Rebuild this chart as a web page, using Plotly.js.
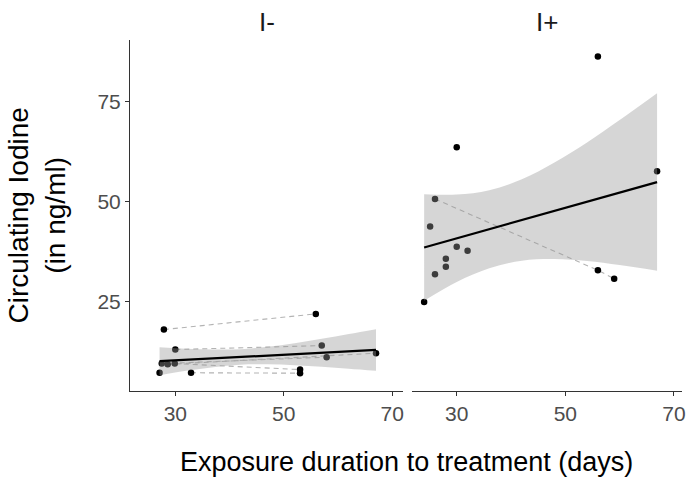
<!DOCTYPE html>
<html>
<head>
<meta charset="utf-8">
<script src="https://cdn.plot.ly/plotly-3.0.1.min.js"></script>
<style>html,body{margin:0;padding:0;background:#fff;}#chart{width:688px;height:482px;}</style>
</head>
<body>
<div id="chart"></div>
<script>
// ---- Panel I- data ----
var leftId   = [1, 1, 2, 2, 3, 3, 4, 4, 5, 5, 6, 6, 7];
var leftDays = [27.9, 55.9, 30.0, 57.0, 27.5, 57.9, 28.6, 67.0, 29.9, 53.0, 32.9, 53.0, 27.1];
var leftVals = [18.1, 22.0, 13.1, 14.1, 9.6, 11.2, 9.4, 12.2, 9.6, 8.1, 7.3, 7.2, 7.3];
var leftFitX = [27.1, 67.0];
var leftFitY = [10.2, 13.0];
var leftRibX  = [27.1, 32, 37, 42, 47, 52, 57, 62, 67];
var leftRibHi = [13.7, 13.3, 13.1, 13.2, 13.8, 14.7, 15.8, 17.0, 18.2];
var leftRibLo = [6.7, 7.8, 8.7, 9.3, 9.4, 9.2, 8.8, 8.3, 7.8];

// ---- Panel I+ data ----
var rightId   = [8, 8, 8, 9, 10, 11, 12, 13, 14, 15, 16, 17, 18];
var rightDays = [26.0, 56.0, 59.0, 56.0, 30.0, 66.9, 25.1, 30.0, 32.0, 28.0, 28.0, 26.0, 24.0];
var rightVals = [50.7, 32.9, 30.8, 86.3, 63.6, 57.6, 43.8, 38.8, 37.8, 35.8, 33.8, 31.9, 25.0];
var rightFitX = [24.0, 66.9];
var rightFitY = [38.6, 54.9];
var rightRibX  = [24, 30, 36, 42, 48, 54, 60, 66.9];
var rightRibHi = [51.9, 51.8, 52.9, 55.6, 59.8, 64.8, 70.4, 77.1];
var rightRibLo = [25.3, 30.0, 33.4, 35.3, 35.7, 35.2, 34.2, 32.8];

// ---- Labels ----
var facetLabels = ['I-', 'I+'];
var xTicks = [30, 50, 70];
var yTicks = [25, 50, 75];
var xTitle = 'Exposure duration to treatment (days)';
var yTitle = 'Circulating Iodine<br>(in ng/ml)';

var FONT = 'Liberation Sans, Arial, sans-serif';

function segments(ids, xs, ys) {
  var groups = {}, order = [];
  ids.forEach(function (id, i) {
    if (!groups[id]) { groups[id] = []; order.push(id); }
    groups[id].push([xs[i], ys[i]]);
  });
  var sx = [], sy = [];
  order.forEach(function (id) {
    var g = groups[id];
    if (g.length < 2) return;
    g.sort(function (a, b) { return a[0] - b[0]; });
    g.forEach(function (p) { sx.push(p[0]); sy.push(p[1]); });
    sx.push(null); sy.push(null);
  });
  return {x: sx, y: sy};
}

function panelTraces(ids, xs, ys, fx, fy, rx, rhi, rlo, xa, ya) {
  var seg = segments(ids, xs, ys);
  return [
    {type: 'scatter', mode: 'lines', x: seg.x, y: seg.y, xaxis: xa, yaxis: ya,
     line: {color: '#b3b3b3', width: 1.1, dash: '5px,4px'}, connectgaps: false, hoverinfo: 'skip'},
    {type: 'scatter', mode: 'markers', x: xs, y: ys, xaxis: xa, yaxis: ya,
     marker: {color: '#000', size: 6.5, line: {width: 0}}},
    {type: 'scatter', mode: 'lines', x: rx, y: rlo, xaxis: xa, yaxis: ya,
     line: {width: 0, shape: 'spline', color: 'rgba(0,0,0,0)'}, hoverinfo: 'skip'},
    {type: 'scatter', mode: 'lines', x: rx, y: rhi, xaxis: xa, yaxis: ya,
     fill: 'tonexty', fillcolor: 'rgba(153,153,153,0.4)',
     line: {width: 0, shape: 'spline', color: 'rgba(0,0,0,0)'}, hoverinfo: 'skip'},
    {type: 'scatter', mode: 'lines', x: fx, y: fy, xaxis: xa, yaxis: ya,
     line: {color: '#000', width: 2.2}}
  ];
}

var data = [].concat(
  panelTraces(leftId, leftDays, leftVals, leftFitX, leftFitY, leftRibX, leftRibHi, leftRibLo, 'x', 'y'),
  panelTraces(rightId, rightDays, rightVals, rightFitX, rightFitY, rightRibX, rightRibHi, rightRibLo, 'x2', 'y2')
);

var xCommon = {
  tickvals: xTicks, ticks: 'outside', ticklen: 4, tickcolor: '#333', tickwidth: 1,
  showline: true, linecolor: '#333', linewidth: 1, showgrid: false, zeroline: false,
  tickfont: {family: FONT, size: 21, color: '#4d4d4d'}
};

var layout = {
  width: 688, height: 482,
  margin: {l: 130, r: 6, t: 40, b: 91.3, pad: 0},
  paper_bgcolor: '#fff', plot_bgcolor: '#fff',
  showlegend: false,
  font: {family: FONT},
  xaxis: Object.assign({}, xCommon, {domain: [0, 0.4951], range: [21.65, 72.03], anchor: 'y'}),
  xaxis2: Object.assign({}, xCommon, {domain: [0.5114, 1], range: [21.82, 71.49], anchor: 'y2'}),
  yaxis: {range: [2.75, 90.4], tickvals: yTicks, ticks: 'outside', ticklen: 4, tickcolor: '#333',
          showline: true, linecolor: '#333', linewidth: 1, showgrid: false, zeroline: false,
          tickfont: {family: FONT, size: 21, color: '#4d4d4d'}, anchor: 'x'},
  yaxis2: {range: [2.75, 90.4], showticklabels: false, showline: false, ticks: '',
           showgrid: false, zeroline: false, anchor: 'x2'},
  annotations: [
    {text: facetLabels[0], xref: 'paper', yref: 'paper', x: 0.2476, y: 1.0513,
     xanchor: 'center', yanchor: 'middle', showarrow: false, font: {family: FONT, size: 26, color: '#1a1a1a'}},
    {text: facetLabels[1], xref: 'paper', yref: 'paper', x: 0.7557, y: 1.0513,
     xanchor: 'center', yanchor: 'middle', showarrow: false, font: {family: FONT, size: 26, color: '#1a1a1a'}},
    {text: xTitle, xref: 'paper', yref: 'paper', x: 0.5, y: -0.2033,
     xanchor: 'center', yanchor: 'middle', showarrow: false, font: {family: FONT, size: 27, color: '#000'}},
    {text: yTitle, xref: 'paper', yref: 'paper', x: -0.1685, y: 0.5, textangle: -90,
     xanchor: 'center', yanchor: 'middle', showarrow: false, font: {family: FONT, size: 28, color: '#000'}}
  ]
};

Plotly.newPlot('chart', data, layout, {displayModeBar: false, staticPlot: true});
</script>
</body>
</html>
